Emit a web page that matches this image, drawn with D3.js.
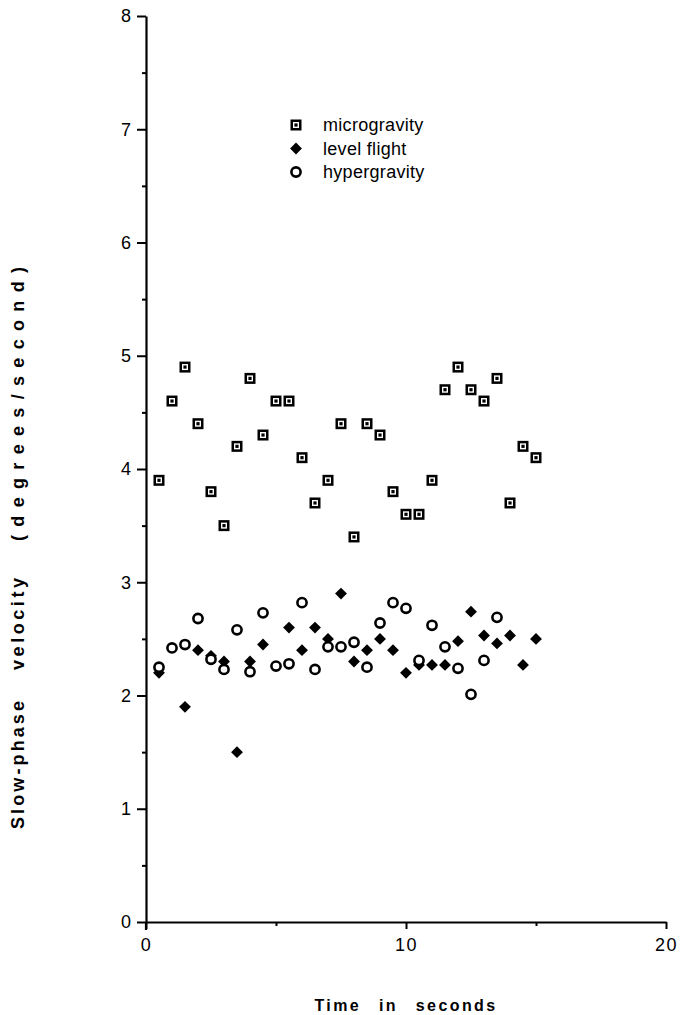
<!DOCTYPE html>
<html>
<head>
<meta charset="utf-8">
<script src="https://cdn.jsdelivr.net/npm/d3@7"></script>
<style>
	body { margin: 0; background: #fff; }
	svg { display: block; }
	.tick text { font-family: 'Liberation Sans', Arial, sans-serif; font-size: 18px; fill: #000; }
</style>
</head>
<body>
<svg id="chart" width="691" height="1015"></svg>
<script>
// time points (seconds) and slow-phase velocity values
const times = [0.5, 1, 1.5, 2, 2.5, 3, 3.5, 4, 4.5, 5, 5.5, 6, 6.5, 7, 7.5,
	8, 8.5, 9, 9.5, 10, 10.5, 11, 11.5, 12, 12.5, 13, 13.5, 14, 14.5, 15];

const microgravity = [3.9, 4.6, 4.9, 4.4, 3.8, 3.5, 4.2, 4.8, 4.3, 4.6, 4.6, 4.1, 3.7, 3.9, 4.4,
	3.4, 4.4, 4.3, 3.8, 3.6, 3.6, 3.9, 4.7, 4.9, 4.7, 4.6, 4.8, 3.7, 4.2, 4.1];

// null where no point is visible
const levelFlight = [2.2, null, 1.9, 2.4, 2.35, 2.3, 1.5, 2.3, 2.45, null, 2.6, 2.4, 2.6, 2.5, 2.9,
	2.3, 2.4, 2.5, 2.4, 2.2, 2.27, 2.27, 2.27, 2.48, 2.74, 2.53, 2.46, 2.53, 2.27, 2.5];

const hypergravity = [2.25, 2.42, 2.45, 2.68, 2.32, 2.23, 2.58, 2.21, 2.73, 2.26, 2.28, 2.82, 2.23, 2.43, 2.43,
	2.47, 2.25, 2.64, 2.82, 2.77, 2.31, 2.62, 2.43, 2.24, 2.01, 2.31, 2.69, null, null, null];

const legendLabels = ["microgravity", "level flight", "hypergravity"];

const xTicks = [0, 10, 20];
const xMinorTicks = [5, 15];
const yTicks = [0, 1, 2, 3, 4, 5, 6, 7, 8];
const yMinorTicks = d3.range(0.5, 8, 1);

const xTitle = "Time in seconds";
// y title, one word at a time, spread out as in the original
const yTitleWords = ["Slow-phase", "velocity", "(degrees/second)"];

const svg = d3.select("#chart");
const font = "'Liberation Sans', Arial, sans-serif";

const x = d3.scaleLinear().domain([0, 20]).range([146, 666]);
const y = d3.scaleLinear().domain([0, 8]).range([922, 16]);

const toPoints = vals => times.map((t, i) => ({ t: t, v: vals[i] })).filter(d => d.v != null);

// ---- axes
svg.append("g")
	.attr("transform", `translate(${x(0)},0)`)
	.call(d3.axisLeft(y).tickValues(yTicks).tickSizeInner(9).tickSizeOuter(0).tickPadding(6).tickFormat(d3.format("d")));

svg.append("g")
	.attr("transform", `translate(${x(0)},0)`)
	.call(d3.axisLeft(y).tickValues(yMinorTicks).tickSize(4).tickFormat(""))
	.call(g => g.select(".domain").remove());

const xAxis = svg.append("g")
	.attr("transform", `translate(0,${y(0)})`)
	.call(d3.axisBottom(x).tickValues(xTicks).tickSizeInner(7).tickSizeOuter(0).tickPadding(9).tickFormat(d3.format("d")));

svg.append("g")
	.attr("transform", `translate(0,${y(0)})`)
	.call(d3.axisBottom(x).tickValues(xMinorTicks).tickSize(4).tickFormat(""))
	.call(g => g.select(".domain").remove());

svg.selectAll(".domain").attr("stroke", "#000").attr("stroke-width", 2.2);
svg.selectAll(".tick line").attr("stroke", "#000").attr("stroke-width", 2);
xAxis.selectAll(".tick text").attr("letter-spacing", 1.5);

// the y axis runs on a little below the x axis
svg.append("line")
	.attr("x1", x(0)).attr("x2", x(0))
	.attr("y1", y(0)).attr("y2", y(0) + 8)
	.attr("stroke", "#000").attr("stroke-width", 2.2);

// ---- axis titles
svg.append("text")
	.attr("x", x(10))
	.attr("y", 1011)
	.attr("text-anchor", "middle")
	.attr("font-family", font)
	.attr("font-weight", "bold")
	.attr("font-size", 16)
	.attr("letter-spacing", 2.4)
	.attr("word-spacing", 11)
	.text(xTitle);

// centre and length of each word along the rotated title
const yTitleCentre = [765, 624, 404];
const yTitleLength = [128, 92, 274];

svg.append("g")
	.selectAll("text")
	.data(yTitleWords)
	.join("text")
	.attr("transform", (d, i) => `translate(24,${yTitleCentre[i]}) rotate(-90)`)
	.attr("text-anchor", "middle")
	.attr("font-family", font)
	.attr("font-weight", "bold")
	.attr("font-size", 18)
	.attr("textLength", (d, i) => yTitleLength[i])
	.attr("lengthAdjust", "spacing")
	.text(d => d);

// ---- marker helpers
function drawSquare(g) {
	g.append("rect").attr("x", -5.5).attr("y", -5.5).attr("width", 11).attr("height", 11).attr("fill", "#000");
	g.append("rect").attr("x", -2.3).attr("y", -2.3).attr("width", 4.6).attr("height", 4.6)
		.attr("fill", "none").attr("stroke", "#fff").attr("stroke-width", 1.4);
}

const diamond = d3.symbol().type(d3.symbolSquare).size(70);

function drawDiamond(g) {
	g.append("path").attr("d", diamond()).attr("transform", "rotate(45)").attr("fill", "#000");
}

function drawCircle(g) {
	g.append("circle").attr("r", 4.6).attr("fill", "#fff").attr("stroke", "#000").attr("stroke-width", 2.6);
}

const markers = [drawSquare, drawDiamond, drawCircle];
const series = [microgravity, levelFlight, hypergravity];

// ---- points
series.forEach((vals, k) => {
	svg.append("g")
		.attr("class", "series-" + k)
		.selectAll("g")
		.data(toPoints(vals))
		.join("g")
		.attr("transform", d => `translate(${x(d.t)},${y(d.v)})`)
		.each(function() { markers[k](d3.select(this)); });
});

// ---- legend
const legend = svg.append("g")
	.attr("class", "legend")
	.selectAll("g")
	.data(legendLabels)
	.join("g")
	.attr("transform", (d, i) => `translate(296,${125 + i * 23.5})`);

legend.each(function(d, i) { markers[i](d3.select(this)); });

legend.append("text")
	.attr("x", 27)
	.attr("dy", "0.35em")
	.attr("font-family", font)
	.attr("font-size", 18)
	.attr("letter-spacing", 0.3)
	.text(d => d);
</script>
</body>
</html>
